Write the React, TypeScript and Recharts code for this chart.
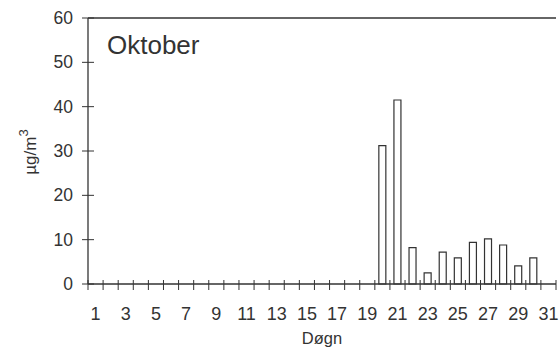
import { BarChart, Bar, XAxis, YAxis, ReferenceLine } from 'recharts';

const days = Array.from({ length: 31 }, (_, i) => String(i + 1));
// døgnmiddel, µg/m3 (null = ingen måling)
const values: (number | null)[] = [
  null, null, null, null, null, null, null, null, null, null,
  null, null, null, null, null, null, null, null, null,
  31.2, 41.5, 8.2, 2.5, 7.2, 5.9, 9.4, 10.2, 8.8, 4.1, 5.9, null,
];
const yTicks = [0, 10, 20, 30, 40, 50, 60];

const data = days.map((d, i) => ({ day: d, value: values[i] }));

const W = 559;
const H = 355;
const LEFT = 88;
const RIGHT = 556;
const TOP = 18;
const BOTTOM = 284;
const BAND = (RIGHT - LEFT) / days.length;
const INK = '#333';
const FONT = '"Liberation Sans", Arial, Helvetica, sans-serif';

function XTick(props: any) {
  const { x, payload, index } = props;
  const n = Number(payload.value);
  return (
    <g>
      <line x1={x - BAND / 2} x2={x - BAND / 2} y1={BOTTOM - 4} y2={BOTTOM + 6} stroke={INK} strokeWidth={1} />
      {index === days.length - 1 && (
        <line x1={x + BAND / 2} x2={x + BAND / 2} y1={BOTTOM - 4} y2={BOTTOM + 6} stroke={INK} strokeWidth={1} />
      )}
      {n % 2 === 1 && (
        <text x={x} y={320} textAnchor="middle" fontSize={18} fill={INK} fontFamily={FONT}>
          {payload.value}
        </text>
      )}
    </g>
  );
}

function YTick(props: any) {
  const { y, payload } = props;
  return (
    <g>
      <line x1={LEFT - 6} x2={LEFT + 6} y1={y} y2={y} stroke={INK} strokeWidth={1} />
      <text x={73} y={y + 6} textAnchor="end" fontSize={17.5} fill={INK} fontFamily={FONT}>
        {payload.value}
      </text>
    </g>
  );
}

export default function App() {
  return (
    <div style={{ position: 'fixed', left: 0, top: 0, width: W, height: H, background: '#fff' }}>
      <BarChart width={W} height={H} data={data} margin={{ top: TOP, right: W - RIGHT, left: 0, bottom: 0 }} barCategoryGap={0}>
        <XAxis
          dataKey="day"
          height={H - BOTTOM}
          interval={0}
          tickLine={false}
          axisLine={{ stroke: INK, strokeWidth: 1.3 }}
          tick={<XTick />}
        />
        <YAxis
          yAxisId="left"
          width={LEFT}
          domain={[0, 60]}
          ticks={yTicks}
          interval={0}
          tickLine={false}
          axisLine={{ stroke: INK, strokeWidth: 1.3 }}
          tick={<YTick />}
        />
        <YAxis yAxisId="right" orientation="right" width={0} domain={[0, 60]} tick={false} tickLine={false} axisLine={{ stroke: INK, strokeWidth: 1.3 }} />
        <ReferenceLine yAxisId="left" y={60} stroke={INK} strokeWidth={1.3} />
        <Bar
          yAxisId="left"
          dataKey="value"
          barSize={7}
          fill="#fff"
          stroke={INK}
          strokeWidth={1.2}
          isAnimationActive={false}
        />
      </BarChart>
      <svg width={W} height={H} style={{ position: 'absolute', left: 0, top: 0, pointerEvents: 'none' }}>
        <text x={107} y={54} fontSize={26} fill={INK} fontFamily={FONT}>Oktober</text>
        <text transform="translate(36,152) rotate(-90)" textAnchor="middle" fontSize={17} fill={INK} fontFamily={FONT}>
          µg/m<tspan dy={-8} fontSize={13}>3</tspan>
        </text>
        <text x={(LEFT + RIGHT) / 2} y={344} textAnchor="middle" fontSize={16.5} fill={INK} fontFamily={FONT}>Døgn</text>
      </svg>
    </div>
  );
}
